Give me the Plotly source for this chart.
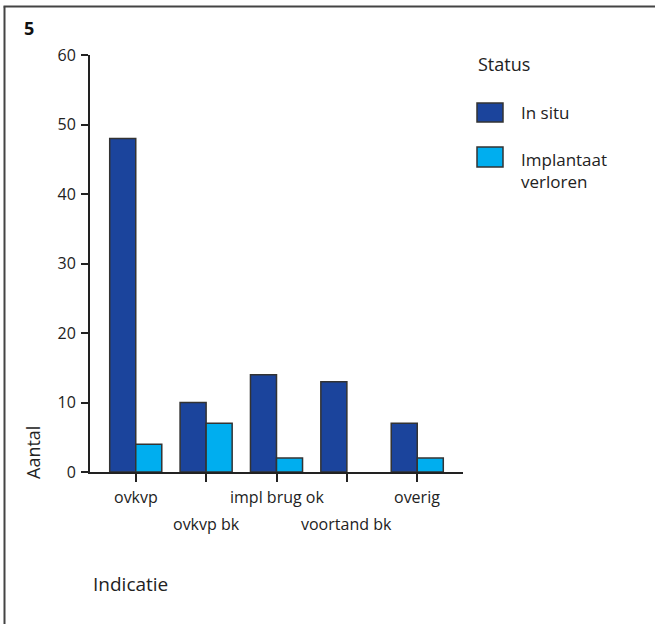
import plotly.graph_objects as go

# ---- data ----
categories = ["ovkvp", "ovkvp bk", "impl brug ok", "voortand bk", "overig"]
in_situ = [48, 10, 14, 13, 7]
verloren = [4, 7, 2, 0, 2]
series_names = ["In situ", "Implantaat<br>verloren"]
y_ticks = [0, 10, 20, 30, 40, 50, 60]

# ---- layout geometry (pixels) ----
W, H = 655, 624
L, R, T, B = 90, 463, 55, 472
FONT = "Open Sans"


def px(x):
    return (x - L) / (R - L)


def py(y):
    return (B - y) / (B - T)


colors = ["#1B449C", "#00AEEF"]
fig = go.Figure()
for name, vals, col in zip(series_names, [in_situ, verloren], colors):
    fig.add_trace(go.Bar(
        x=categories, y=vals, name=name.replace("<br>", " "),
        marker=dict(color=col,
                    line=dict(color="#333333", width=[1.5 if v > 0 else 0 for v in vals])),
        showlegend=False,
    ))

fig.update_layout(
    width=W, height=H,
    margin=dict(l=L, r=W - R, t=T, b=H - B, pad=0),
    paper_bgcolor="white", plot_bgcolor="white",
    barmode="group", bargap=0.26, bargroupgap=0,
    font=dict(family=FONT, size=16, color="#222222"),
)
fig.update_xaxes(
    type="category", range=[-0.65, 4.65],
    showline=True, linecolor="#222222", linewidth=2,
    ticks="outside", ticklen=8, tickwidth=1.5, tickcolor="#222222",
    showticklabels=False, showgrid=False, zeroline=False,
)
fig.update_yaxes(
    range=[0, 60], tickvals=y_ticks,
    showline=True, linecolor="#222222", linewidth=2,
    ticks="outside", ticklen=7, tickwidth=1.5, tickcolor="#222222",
    tickfont=dict(family=FONT, size=16, color="#222222"),
    ticklabelstandoff=2,
    showgrid=False, zeroline=False,
)

ann = []
# x category labels in two staggered rows
for i, c in enumerate(categories):
    ann.append(dict(
        x=c, xref="x", y=0, yref="paper", yanchor="middle", xanchor="center",
        yshift=-(497 - B) if i % 2 == 0 else -(524 - B),
        text=c, showarrow=False, font=dict(family=FONT, size=16, color="#222222"),
    ))

# titles
ann.append(dict(x=px(22), y=py(28), xref="paper", yref="paper", xanchor="left", yanchor="middle",
                text="<b>5</b>", showarrow=False, font=dict(family=FONT, size=18, color="#111111")))
ann.append(dict(x=px(33), y=py(453), xref="paper", yref="paper", xanchor="center", yanchor="middle",
                text="Aantal", textangle=-90, showarrow=False,
                font=dict(family=FONT, size=18, color="#222222")))
ann.append(dict(x=px(91), y=py(584), xref="paper", yref="paper", xanchor="left", yanchor="middle",
                text="Indicatie", showarrow=False, font=dict(family=FONT, size=19, color="#222222")))

# legend (drawn manually to match large swatches)
ann.append(dict(x=px(476), y=py(64), xref="paper", yref="paper", xanchor="left", yanchor="middle",
                text="Status", showarrow=False, font=dict(family=FONT, size=18, color="#222222")))
shapes = []
legend_rows = [(103, 122, 112), (147, 167, 170)]
for (y0, y1, ty), name, col in zip(legend_rows, series_names, colors):
    shapes.append(dict(type="rect", xref="paper", yref="paper",
                       x0=px(477), x1=px(503), y0=py(y1), y1=py(y0),
                       fillcolor=col, line=dict(color="#333333", width=1.5)))
    ann.append(dict(x=px(519), y=py(ty), xref="paper", yref="paper", xanchor="left", yanchor="middle",
                    text=name, align="left", showarrow=False,
                    font=dict(family=FONT, size=17, color="#222222")))

# frame (left and top border)
shapes.append(dict(type="line", xref="paper", yref="paper",
                   x0=px(4.5), x1=px(4.5), y0=py(6.5), y1=py(630),
                   line=dict(color="#444444", width=2)))
shapes.append(dict(type="line", xref="paper", yref="paper",
                   x0=px(3.5), x1=px(660), y0=py(6.5), y1=py(6.5),
                   line=dict(color="#444444", width=2)))

fig.update_layout(annotations=ann, shapes=shapes)
fig.write_html(
    "out.html",
    config={"displayModeBar": False},
    post_script="document.body.style.margin='0px';document.body.style.overflow='hidden';",
)
